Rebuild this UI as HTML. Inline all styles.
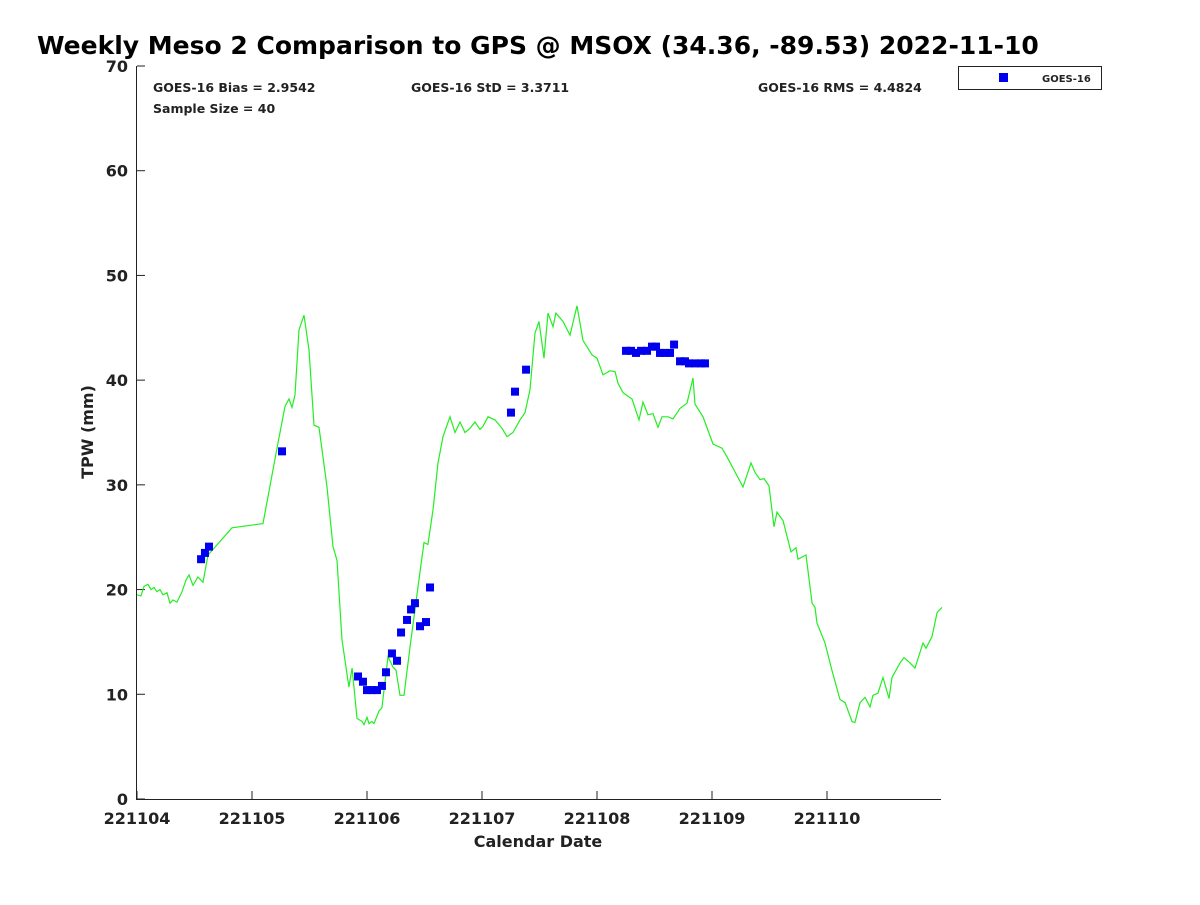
<!DOCTYPE html>
<html><head><meta charset="utf-8"><style>
body{margin:0;background:#fff;}
svg text{font-family:"DejaVu Sans","Liberation Sans",sans-serif;font-weight:bold;fill:#222;}
</style></head><body>
<svg id="chart" width="1200" height="900" viewBox="0 0 1200 900">
<text x="37" y="54" font-size="25" style="fill:#000">Weekly Meso 2 Comparison to GPS @ MSOX (34.36, -89.53) 2022-11-10</text>
<g id="axes"></g>
<g id="series"></g>
<text x="153" y="92" font-size="12.5">GOES-16 Bias = 2.9542</text>
<text x="411" y="92" font-size="12.5">GOES-16 StD = 3.3711</text>
<text x="758" y="92" font-size="12.5">GOES-16 RMS = 4.4824</text>
<text x="153" y="113" font-size="12.5">Sample Size = 40</text>
<text x="538" y="847" font-size="16" text-anchor="middle">Calendar Date</text>
<text transform="translate(93,432) rotate(-90)" font-size="16" text-anchor="middle">TPW (mm)</text>
<g>
<rect x="958.5" y="66.5" width="143" height="23" fill="#fff" stroke="#222"/>
<rect x="999" y="73" width="9" height="9" fill="#0000ee"/>
<text x="1042" y="82" font-size="10">GOES-16</text>
</g>
</svg>
<script>
const xTickLabels=["221104","221105","221106","221107","221108","221109","221110"];
const yTicks=[0,10,20,30,40,50,60,70];
const gpsDays=[0,0.035,0.061,0.096,0.122,0.148,0.174,0.2,0.226,0.261,0.287,0.313,0.348,0.391,0.426,0.452,0.487,0.53,0.574,0.617,0.826,1.096,1.217,1.287,1.322,1.348,1.374,1.409,1.452,1.496,1.539,1.583,1.652,1.704,1.739,1.783,1.843,1.87,1.913,1.957,1.974,2,2.017,2.043,2.061,2.104,2.13,2.183,2.226,2.252,2.287,2.322,2.374,2.443,2.496,2.53,2.574,2.617,2.661,2.722,2.765,2.809,2.852,2.896,2.939,2.983,3.009,3.052,3.113,3.174,3.217,3.27,3.33,3.374,3.417,3.461,3.496,3.539,3.574,3.617,3.643,3.704,3.765,3.826,3.878,3.957,4,4.052,4.113,4.157,4.183,4.226,4.304,4.365,4.4,4.443,4.487,4.53,4.565,4.617,4.661,4.722,4.783,4.835,4.852,4.922,5.009,5.087,5.13,5.183,5.27,5.339,5.374,5.417,5.452,5.496,5.539,5.565,5.617,5.687,5.73,5.748,5.817,5.87,5.896,5.913,5.983,6.043,6.113,6.157,6.217,6.243,6.287,6.33,6.374,6.4,6.443,6.487,6.539,6.565,6.635,6.67,6.722,6.765,6.835,6.861,6.913,6.957,7.0];
const gpsValues=[19.5,19.4,20.3,20.5,20,20.2,19.8,20,19.5,19.7,18.7,19,18.8,19.8,20.9,21.4,20.4,21.2,20.7,23.3,25.9,26.3,33.5,37.5,38.2,37.4,38.6,44.8,46.2,42.9,35.7,35.5,29.8,24.1,22.8,15.2,10.7,12.5,7.7,7.4,7.1,7.8,7.2,7.4,7.2,8.4,8.7,13.6,12.6,12.3,9.9,9.9,14.5,20.2,24.5,24.3,27.6,32.1,34.6,36.5,35,36,35,35.4,36,35.3,35.6,36.5,36.2,35.4,34.6,35,36.2,36.9,39.1,44.5,45.6,42.1,46.4,45.1,46.4,45.6,44.3,47.1,43.8,42.4,42.1,40.5,40.9,40.8,39.7,38.8,38.2,36.2,37.9,36.7,36.8,35.5,36.5,36.5,36.3,37.3,37.8,40.2,37.7,36.5,33.9,33.5,32.7,31.6,29.8,32.1,31.2,30.5,30.6,29.9,26,27.4,26.6,23.6,24,22.9,23.3,18.7,18.3,16.8,14.9,12.3,9.5,9.2,7.4,7.3,9.2,9.7,8.8,9.9,10.1,11.6,9.6,11.6,13,13.5,13,12.5,14.9,14.4,15.5,17.8,18.3];
const goesDays=[0.557,0.591,0.626,1.261,1.922,1.965,2,2.043,2.087,2.13,2.165,2.217,2.261,2.296,2.348,2.383,2.417,2.461,2.513,2.548,3.252,3.287,3.383,4.252,4.296,4.339,4.383,4.435,4.478,4.513,4.548,4.591,4.635,4.67,4.722,4.765,4.8,4.852,4.904,4.939];
const goesValues=[22.9,23.5,24.1,33.2,11.7,11.2,10.4,10.4,10.4,10.8,12.1,13.9,13.2,15.9,17.1,18.1,18.7,16.5,16.9,20.2,36.9,38.9,41,42.8,42.8,42.6,42.8,42.8,43.2,43.2,42.6,42.6,42.6,43.4,41.8,41.8,41.6,41.6,41.6,41.6];

const NS="http://www.w3.org/2000/svg";
const X0=137,PXD=115,Y0=799,PXV=733/70;
function xs(d){return X0+d*PXD;}
function ys(v){return Y0-v*PXV;}
function mk(tag,attrs,parent){const e=document.createElementNS(NS,tag);for(const k in attrs)e.setAttribute(k,attrs[k]);parent.appendChild(e);return e;}
const axes=document.getElementById('axes');
let a=mk('path',{d:`M${X0-0.5},66 V${Y0+0.5} H941`,fill:'none',stroke:'#222','stroke-width':1},axes);


xTickLabels.forEach((lab,i)=>{
 const x=xs(i);
 const t=mk('line',{x1:x,x2:x,y1:Y0,y2:Y0-8,stroke:'#222'},axes);
 
 
 const tx=mk('text',{x:x,y:Y0+25,'font-size':16,'text-anchor':'middle'},axes);
 
 
 tx.textContent=lab;
});
yTicks.forEach(v=>{
 const y=ys(v);
 const t=mk('line',{x1:X0,x2:X0+8,y1:y,y2:y,stroke:'#222'},axes);
 
 
 const tx=mk('text',{x:X0-9,y:y+6,'font-size':16,'text-anchor':'end'},axes);
 
 
 tx.textContent=v;
});
const ser=document.getElementById('series');
const pts=gpsDays.map((d,i)=>xs(d).toFixed(1)+','+ys(gpsValues[i]).toFixed(1)).join(' ');
const line=mk('polyline',{points:pts,fill:'none',stroke:'#22ee22','stroke-width':1.2},ser);


goesDays.forEach((d,i)=>{
 const r=mk('rect',{x:xs(d)-4,y:ys(goesValues[i])-4,width:8,height:8,fill:'#0000ee'},ser);
 
 
});
</script>
</body></html>
